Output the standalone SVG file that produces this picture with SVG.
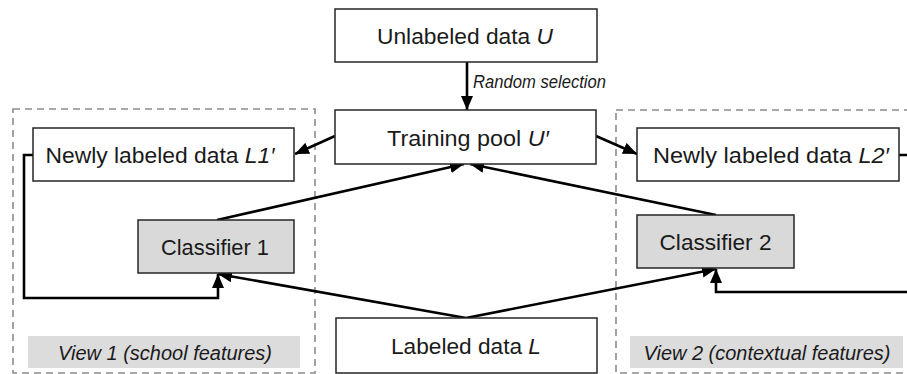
<svg xmlns="http://www.w3.org/2000/svg" width="907" height="374" viewBox="0 0 907 374">
<defs>
<style>
.box{fill:#fff;stroke:#262626;stroke-width:1.5}
.gbox{fill:#d9d9d9;stroke:#262626;stroke-width:1.5}
.lab{fill:#dcdcdc;stroke:none}
.view{fill:none;stroke:#8c8c8c;stroke-width:1.6;stroke-dasharray:7 5}
.t{font-family:"Liberation Sans",Arial,sans-serif;font-size:22px;fill:#1a1a1a;text-anchor:middle}
.it{font-family:"Liberation Sans",Arial,sans-serif;font-size:20px;font-style:italic;fill:#1a1a1a;text-anchor:middle}
.i{font-style:italic}
.c{fill:none;stroke:#000;stroke-width:2.6}
</style>
<marker id="ah" markerUnits="userSpaceOnUse" markerWidth="16" markerHeight="13" refX="14" refY="6.5" orient="auto">
<path d="M0,0.5 L14,6.5 L0,12.5 z" fill="#000"/>
</marker>
</defs>
<rect width="907" height="374" fill="#fff"/>

<g id="view1">
<rect class="view" x="13" y="109" width="302" height="264"/>
<rect class="lab" x="28" y="336" width="272" height="32"/>
<text class="it" x="165" y="360" textLength="214" lengthAdjust="spacingAndGlyphs">View 1 (school features)</text>
</g>
<g id="view2">
<rect class="view" x="616" y="110" width="300" height="263"/>
<rect class="lab" x="630" y="336" width="273" height="32"/>
<text class="it" x="767" y="360" textLength="247" lengthAdjust="spacingAndGlyphs">View 2 (contextual features)</text>
</g>

<g id="connectors">
<line class="c" x1="467" y1="62" x2="467" y2="110" marker-end="url(#ah)"/>
<line class="c" x1="335" y1="136" x2="295" y2="154" marker-end="url(#ah)"/>
<line class="c" x1="596" y1="136" x2="637" y2="154" marker-end="url(#ah)"/>
<line class="c" x1="217" y1="220" x2="464" y2="164" marker-end="url(#ah)"/>
<line class="c" x1="716" y1="215" x2="470" y2="164" marker-end="url(#ah)"/>
<line class="c" x1="466" y1="318" x2="218" y2="274" marker-end="url(#ah)"/>
<line class="c" x1="466" y1="318" x2="716" y2="269" marker-end="url(#ah)"/>
<polyline class="c" points="33,155 24,155 24,298 218,298 218,274" marker-end="url(#ah)"/>
<polyline class="c" points="899,155 920,155 920,292 716,292 716,269" marker-end="url(#ah)"/>
<text x="473" y="88" font-family="Liberation Sans, Arial, sans-serif" font-size="17.5" font-style="italic" fill="#1a1a1a" textLength="133" lengthAdjust="spacingAndGlyphs">Random selection</text>
</g>

<g id="unlabeled">
<rect class="box" x="335" y="9" width="262" height="53"/>
<text class="t" x="465" y="44" textLength="176" lengthAdjust="spacingAndGlyphs">Unlabeled data <tspan class="i">U</tspan></text>
</g>
<g id="pool">
<rect class="box" x="335" y="110" width="261" height="54"/>
<text class="t" x="468" y="146" textLength="162" lengthAdjust="spacingAndGlyphs">Training pool <tspan class="i">U′</tspan></text>
</g>
<g id="newL1">
<rect class="box" x="33" y="128" width="261" height="53"/>
<text class="t" x="160" y="163" textLength="229" lengthAdjust="spacingAndGlyphs">Newly labeled data <tspan class="i">L1′</tspan></text>
</g>
<g id="newL2">
<rect class="box" x="637" y="128" width="262" height="53"/>
<text class="t" x="771" y="163" textLength="236" lengthAdjust="spacingAndGlyphs">Newly labeled data <tspan class="i">L2′</tspan></text>
</g>
<g id="clf1">
<rect class="gbox" x="138" y="220" width="156" height="53"/>
<text class="t" x="215" y="255" textLength="108" lengthAdjust="spacingAndGlyphs">Classifier 1</text>
</g>
<g id="clf2">
<rect class="gbox" x="637" y="215" width="157" height="53"/>
<text class="t" x="715.5" y="250" textLength="112" lengthAdjust="spacingAndGlyphs">Classifier 2</text>
</g>
<g id="labeled">
<rect class="box" x="336" y="318" width="261" height="55"/>
<text class="t" x="466" y="354" textLength="150" lengthAdjust="spacingAndGlyphs">Labeled data <tspan class="i">L</tspan></text>
</g>
</svg>
